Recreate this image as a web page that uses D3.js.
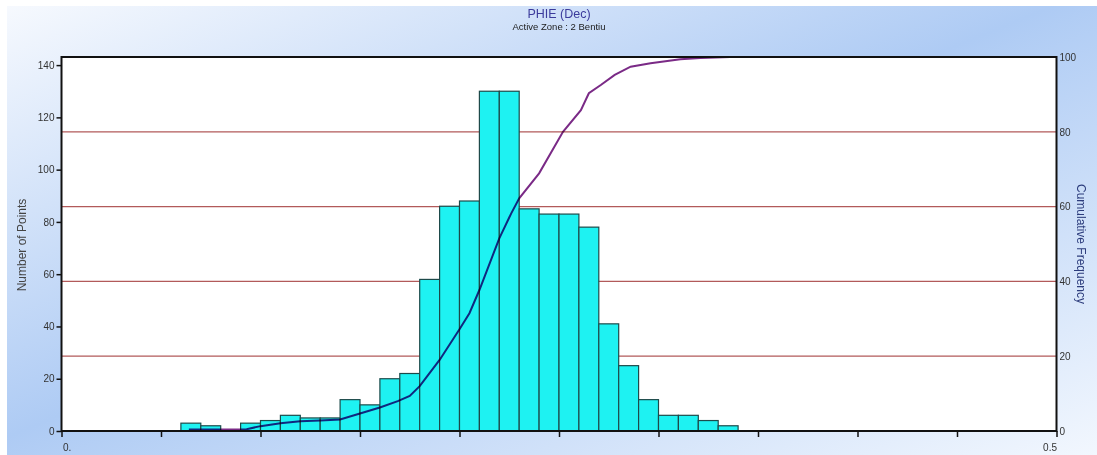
<!DOCTYPE html>
<html>
<head>
<meta charset="utf-8">
<script src="https://cdn.jsdelivr.net/npm/d3@7/dist/d3.min.js"></script>
<style>
    html, body { margin: 0; padding: 0; background: #fff; }
    svg { display: block; font-family: "Liberation Sans", Arial, sans-serif; }
    .bar { fill: #1ef2f2; stroke: #1d4a4a; stroke-width: 1.2px; }
    .grid { stroke: #b25a5a; stroke-width: 1.3px; }
    .cum { fill: none; stroke: #7a2a86; stroke-width: 2px; mix-blend-mode: multiply; }
    .tick text { font-size: 10px; fill: #333; }
</style>
</head>
<body>
<svg id="chart"></svg>
<script>
// histogram bins (start of each 0.01 wide class) and counts
const binStarts = [0.06, 0.07, 0.08, 0.09, 0.10, 0.11, 0.12, 0.13, 0.14, 0.15, 0.16, 0.17, 0.18, 0.19,
    0.20, 0.21, 0.22, 0.23, 0.24, 0.25, 0.26, 0.27, 0.28, 0.29, 0.30, 0.31, 0.32, 0.33];
const counts = [3, 2, 0, 3, 4, 6, 5, 5, 12, 10, 20, 22, 58, 86,
    88, 130, 130, 85, 83, 83, 78, 41, 25, 12, 6, 6, 4, 2];

// cumulative frequency curve (percent)
const cumX = [0.064, 0.075, 0.085, 0.093, 0.10, 0.11, 0.12, 0.13, 0.14, 0.15, 0.16, 0.169, 0.175, 0.18,
    0.19, 0.20, 0.205, 0.21, 0.22, 0.226, 0.23, 0.24, 0.252, 0.261, 0.265, 0.271, 0.278, 0.286,
    0.296, 0.311, 0.321, 0.336];
const cumY = [0.4, 0.4, 0.4, 0.5, 1.3, 2.1, 2.6, 2.8, 3.1, 4.7, 6.3, 8.0, 9.4, 12.0,
    19.0, 27.2, 31.5, 37.7, 51.5, 58.2, 62.2, 68.9, 80.0, 85.8, 90.3, 92.5, 95.2, 97.4,
    98.3, 99.4, 99.7, 100];

const leftTicks = [0, 20, 40, 60, 80, 100, 120, 140];
const rightTicks = [0, 20, 40, 60, 80, 100];
const gridTicks = [20, 40, 60, 80];
const xTicks = [0, 0.05, 0.1, 0.15, 0.2, 0.25, 0.3, 0.35, 0.4, 0.45, 0.5];

const W = 1097, H = 455;
const plot = {left: 61.5, right: 1056.5, top: 57, bottom: 431};

const svg = d3.select('#chart').attr('width', W).attr('height', H);

const defs = svg.append('defs');
const grad = defs.append('linearGradient')
    .attr('id', 'bg')
    .attr('x1', 0).attr('y1', 0).attr('x2', 1).attr('y2', 1);
grad.append('stop').attr('offset', '0%').attr('stop-color', '#f6f9fe');
grad.append('stop').attr('offset', '48%').attr('stop-color', '#aecbf4');
grad.append('stop').attr('offset', '100%').attr('stop-color', '#f2f7fe');

svg.append('rect').attr('width', W).attr('height', H).attr('fill', '#fff');
svg.append('rect')
    .attr('x', 7).attr('y', 6)
    .attr('width', W - 7).attr('height', H - 6)
    .attr('fill', 'url(#bg)');

const x = d3.scaleLinear().domain([0, 0.5]).range([plot.left, plot.right]);
const y = d3.scaleLinear().domain([0, 143.1]).range([plot.bottom, plot.top]);
const yc = d3.scaleLinear().domain([0, 100]).range([plot.bottom, plot.top]);

// plot area
svg.append('rect')
    .attr('x', plot.left).attr('y', plot.top)
    .attr('width', plot.right - plot.left).attr('height', plot.bottom - plot.top)
    .attr('fill', '#fff');

svg.append('g').selectAll('line')
    .data(gridTicks)
    .join('line')
    .attr('class', 'grid')
    .attr('x1', plot.left).attr('x2', plot.right)
    .attr('y1', d => yc(d)).attr('y2', d => yc(d));

svg.append('g').selectAll('rect')
    .data(binStarts.map((b, i) => ({b: b, c: counts[i]})).filter(d => d.c > 0))
    .join('rect')
    .attr('class', 'bar')
    .attr('x', d => x(d.b))
    .attr('width', d => x(d.b + 0.01) - x(d.b))
    .attr('y', d => y(d.c))
    .attr('height', d => y(0) - y(d.c));

const line = d3.line()
    .x((d, i) => x(cumX[i]))
    .y(d => yc(d));

svg.append('path')
    .datum(cumY)
    .attr('class', 'cum')
    .attr('d', line);

// frame
svg.append('rect')
    .attr('x', plot.left).attr('y', plot.top)
    .attr('width', plot.right - plot.left).attr('height', plot.bottom - plot.top)
    .attr('fill', 'none')
    .attr('stroke', '#111')
    .attr('stroke-width', 2);

// left axis
const gL = svg.append('g')
    .attr('transform', 'translate(' + plot.left + ',0)')
    .call(d3.axisLeft(y).tickValues(leftTicks).tickSize(5).tickPadding(2));
gL.select('.domain').remove();
gL.selectAll('.tick line').attr('stroke', '#111').attr('stroke-width', 1.5);

// right axis
const gR = svg.append('g')
    .attr('transform', 'translate(' + plot.right + ',0)')
    .call(d3.axisRight(yc).tickValues(rightTicks).tickSize(0).tickPadding(3));
gR.select('.domain').remove();

// bottom axis
const gX = svg.append('g')
    .attr('transform', 'translate(0,' + plot.bottom + ')')
    .call(d3.axisBottom(x).tickValues(xTicks).tickSize(6).tickPadding(7)
        .tickFormat(d => d === 0 ? '0.' : (d === 0.5 ? '0.5' : '')));
gX.select('.domain').remove();
gX.selectAll('.tick line').attr('stroke', '#111').attr('stroke-width', 1.5);
gX.selectAll('.tick text')
    .attr('text-anchor', d => d === 0 ? 'start' : 'end')
    .attr('dx', d => d === 0 ? 1 : 0);

// titles
svg.append('text')
    .attr('x', (plot.left + plot.right) / 2).attr('y', 18)
    .attr('text-anchor', 'middle')
    .attr('font-size', 12.5)
    .attr('fill', '#3b3b9c')
    .text('PHIE (Dec)');

svg.append('text')
    .attr('x', (plot.left + plot.right) / 2).attr('y', 30)
    .attr('text-anchor', 'middle')
    .attr('font-size', 9.5)
    .attr('fill', '#1a1a1a')
    .text('Active Zone : 2  Bentiu');

svg.append('text')
    .attr('transform', 'translate(26,245) rotate(-90)')
    .attr('text-anchor', 'middle')
    .attr('font-size', 12)
    .attr('fill', '#444')
    .text('Number of Points');

svg.append('text')
    .attr('transform', 'translate(1077,244) rotate(90)')
    .attr('text-anchor', 'middle')
    .attr('font-size', 12)
    .attr('fill', '#2c3c7c')
    .text('Cumulative Frequency');
</script>
</body>
</html>
